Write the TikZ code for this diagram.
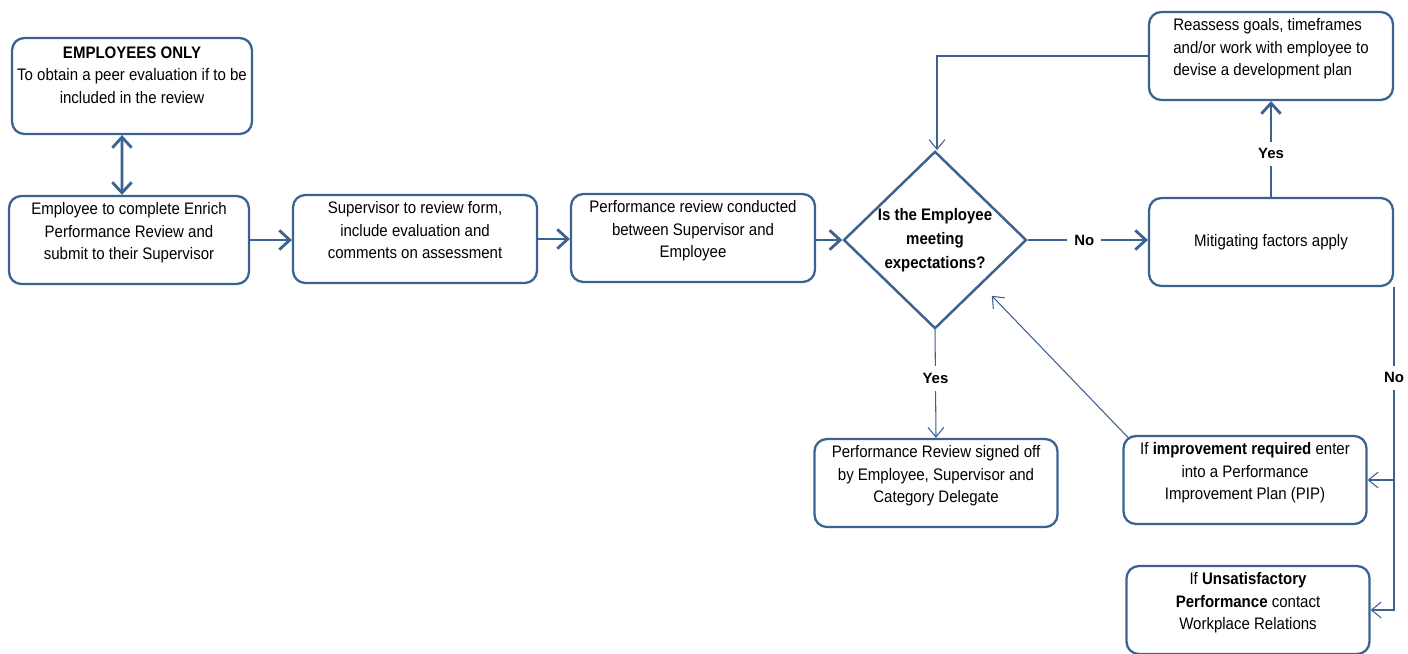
\documentclass[tikz,border=0pt]{standalone}
\usepackage{fontspec}
\setmainfont{Liberation Sans}[FakeStretch=0.9]
\newfontfamily\lblfont{Liberation Sans}
\usetikzlibrary{shapes.geometric,arrows.meta}
\definecolor{flowblue}{RGB}{59,98,145}
\tikzset{
  procbox/.style={draw=flowblue, line width=1.3pt, rounded corners=7pt,
    minimum width=4.8cm, minimum height=1.76cm, align=center, inner sep=2pt,
    font=\fontsize{9.5}{12.8}\selectfont},
  lifted/.style={text depth=10pt},
  decision/.style={diamond, draw=flowblue, line width=1.4pt, align=center,
    inner sep=0pt, minimum width=3.66cm, minimum height=3.5cm,
    font=\bfseries\fontsize{9.5}{13.5}\selectfont},
  flow/.style={draw=flowblue, line width=1.6pt, -{Straight Barb[length=6pt,width=11pt]}},
  thinflow/.style={draw=flowblue, line width=0.6pt, -{Straight Barb[length=5.5pt,width=9pt]}},
  trunk/.style={draw=flowblue, line width=1.1pt},
  answer/.style={fill=white, font=\lblfont\bfseries\fontsize{8.5}{10}\selectfont, inner sep=4pt}
}
\begin{document}
\begin{tikzpicture}[x=0.02cm, y=-0.02cm]
        \useasboundingbox[fill=white] (0,0) rectangle (1408,653);

        % --- LEFT COLUMN ---
        \node[procbox, text depth=12.7pt, minimum height=1.92cm] (peer) at (132,86)
          {\textbf{EMPLOYEES ONLY}\\To obtain a peer evaluation if to be\\included in the review};
        \node[procbox, lifted] (empl) at (129,240)
          {Employee to complete Enrich\\Performance Review and\\submit to their Supervisor};

        % --- MAIN ROW ---
        \node[procbox, lifted, minimum width=4.88cm] (sup) at (415,239)
          {Supervisor to review form,\\include evaluation and\\comments on assessment};
        \node[procbox, lifted, minimum width=4.88cm] (perf) at (693,238)
          {Performance review conducted\\between Supervisor and\\Employee};
        \node[decision] (dec) at (935,240) {Is the Employee\\meeting\\expectations?};
        \node[procbox, minimum width=4.88cm] (mit) at (1271,242) {Mitigating factors apply};
        \node[procbox, lifted, minimum width=4.88cm, align=left] (reas) at (1271,56)
          {Reassess goals, timeframes\\and/or work with employee to\\devise a development plan};

        % --- OUTCOMES ---
        \node[procbox, lifted, minimum width=4.86cm] (sign) at (936,483)
          {Performance Review signed off\\by Employee, Supervisor and\\Category Delegate};
        \node[procbox, lifted, minimum width=4.86cm] (pip) at (1245,480)
          {If \textbf{improvement required} enter\\into a Performance\\Improvement Plan (PIP)};
        \node[procbox, lifted, minimum width=4.86cm] (uns) at (1248,610)
          {If \textbf{Unsatisfactory}\\\textbf{Performance} contact\\Workplace Relations};

        % Connectors
        \draw[flow, {Straight Barb[length=6pt,width=11pt]}-{Straight Barb[length=6pt,width=11pt]}]
          ([xshift=-0.2cm]peer.south) -- ([xshift=-0.14cm]empl.north);
        \draw[flow] (empl.east) -- (empl.east -| sup.west);
        \draw[flow] (sup.east) -- (sup.east -| perf.west);
        \draw[flow] (dec.west -| perf.east) -- (dec.west);
        \draw[flow] (dec.east) -- node[answer, pos=0.47] {No} (dec.east -| mit.west);
        \draw[flow] (mit.north) -- node[answer, pos=0.45] {Yes} (reas.south);
        \draw[thinflow] (reas.west) -| ([xshift=0.04cm]dec.north);
        \draw[thinflow] (dec.south) -- node[answer, pos=0.45] {Yes} (sign.north);

        % No branch down the right side
        \coordinate (bend) at (mit.south east |- uns.east);
        \draw[trunk] (mit.south east) -- node[answer, pos=0.28] {No} ([yshift=-0.6pt]bend);
        \draw[thinflow] (pip.east -| bend) -- (pip.east);
        \draw[thinflow] (bend) -- (uns.east);
        \draw[thinflow, shorten >=0.3cm] ([shift={(6,3)}]pip.north west) -- (dec.south east);
    \end{tikzpicture}
\end{document}
